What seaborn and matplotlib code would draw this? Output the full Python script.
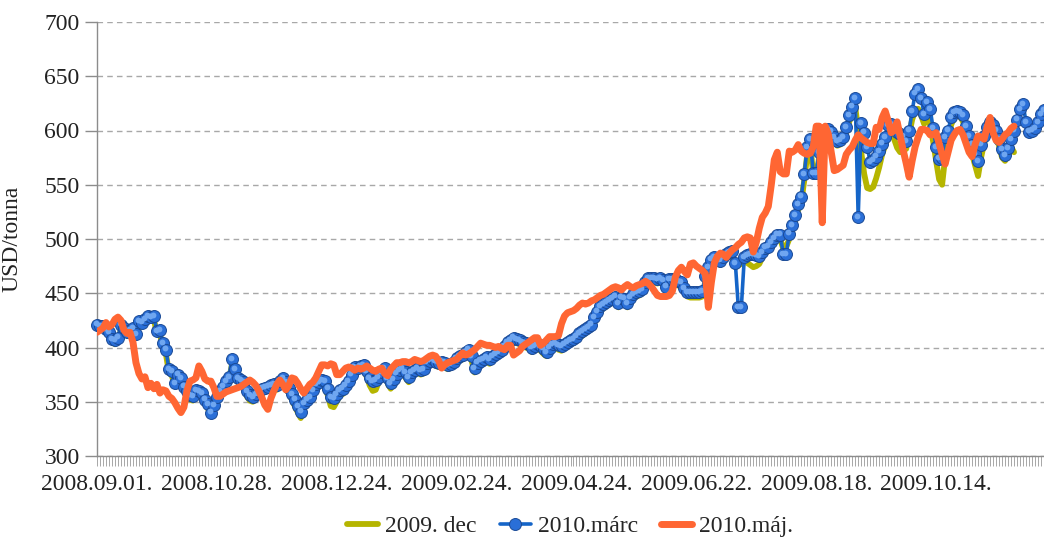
import numpy as np
import pandas as pd
import matplotlib
matplotlib.use("Agg")
import matplotlib.pyplot as plt
import matplotlib.transforms as mtransforms
import seaborn as sns

series_names = ["2009. dec", "2010.márc", "2010.máj."]
tick_labels = ["2008.09.01.", "2008.10.28.", "2008.12.24.", "2009.02.24.",
               "2009.04.24.", "2009.06.22.", "2009.08.18.", "2009.10.14."]

dec_2009 = [
    419, 418, 417, 414, 411, 405, 403, 405, 417, 415,
    411, 413, 415, 409, 420, 420, 423, 426, 425, 426,
    412, 412, 401, 394, 377, 374, 364, 371, 368, 360,
    356, 352, 351, 357, 356, 354, 348, 344, 337, 343,
    350, 356, 360, 365, 369, 384, 376, 368, 366, 364,
    355, 351, 350, 353, 356, 358, 359, 360, 361, 362,
    361, 365, 368, 364, 358, 352, 346, 340, 335, 344,
    347, 350, 357, 362, 364, 366, 364, 356, 346, 345,
    350, 356, 357, 360, 365, 371, 378, 377, 379, 380,
    373, 365, 360, 361, 368, 373, 377, 367, 362, 366,
    372, 375, 377, 372, 368, 373, 375, 377, 375, 376,
    382, 384, 385, 383, 382, 383, 382, 380, 381, 383,
    386, 388, 389, 392, 394, 388, 377, 382, 384, 385,
    387, 385, 388, 390, 392, 394, 397, 401, 403, 405,
    404, 403, 401, 400, 399, 396, 397, 399, 397, 394,
    392, 396, 399, 400, 398, 397, 399, 401, 403, 404,
    406, 409, 411, 413, 415, 417, 424, 429, 434, 436,
    438, 440, 441, 443, 437, 442, 441, 437, 442, 445,
    447, 448, 450, 456, 460, 460, 460, 459, 460, 458,
    452, 459, 459, 459, 457, 456, 451, 447, 446, 446,
    446, 446, 447, 461, 469, 476, 479, 478, 476, 479,
    482, 484, 485, 474, 476, 477, 479, 478, 476, 474,
    475, 477, 483, 487, 489, 493, 497, 500, 500, 491,
    493, 500, 508, 517, 527, 534, 554, 578, 586, 560,
    558, 576, 588, 594, 597, 595, 590, 586, 587, 590,
    598, 608, 615, 622, 600, 580, 560, 547, 546, 548,
    556, 566, 578, 586, 598, 600, 592, 584, 580, 582,
    583, 596, 610, 618, 620, 614, 606, 612, 605, 590,
    572, 555, 550, 575, 590, 605, 612, 614, 613, 608,
    598, 588, 578, 568, 558, 575, 588, 597, 603, 600,
    594, 586, 575, 572, 578, 585, 580,
]

marc_2010 = [
    421, 420, 420, 417, 414, 408, 407, 409, 421, 418,
    414, 416, 418, 412, 424, 423, 426, 429, 428, 429,
    415, 416, 404, 398, 380, 378, 367, 375, 372, 364,
    360, 356, 355, 361, 360, 358, 352, 348, 340, 347,
    354, 360, 364, 369, 373, 389, 380, 372, 370, 368,
    360, 356, 354, 357, 360, 362, 363, 364, 365, 366,
    365, 369, 372, 368, 363, 357, 352, 346, 341, 349,
    352, 354, 361, 366, 368, 370, 369, 362, 354, 353,
    357, 361, 362, 365, 369, 375, 382, 381, 383, 384,
    378, 372, 369, 370, 373, 377, 381, 372, 367, 371,
    376, 379, 381, 377, 373, 377, 379, 381, 379, 380,
    386, 388, 389, 387, 386, 387, 386, 384, 385, 387,
    390, 392, 393, 396, 398, 392, 381, 386, 388, 389,
    391, 389, 392, 394, 396, 398, 401, 405, 407, 409,
    408, 407, 405, 404, 403, 400, 401, 403, 401, 399,
    396, 400, 403, 404, 402, 401, 403, 405, 407, 408,
    410, 413, 415, 417, 419, 421, 428, 433, 438, 440,
    442, 444, 445, 447, 441, 446, 445, 441, 446, 449,
    451, 452, 454, 460, 464, 464, 464, 463, 464, 462,
    456, 463, 463, 463, 461, 460, 455, 451, 451, 451,
    451, 451, 452, 466, 474, 481, 483, 482, 480, 483,
    486, 488, 489, 478, 437, 437, 483, 485, 486, 486,
    485, 484, 488, 492, 493, 497, 501, 504, 504, 486,
    486, 505, 513, 522, 532, 539, 560, 585, 592, 561,
    561, 580, 592, 598, 601, 599, 594, 590, 591, 594,
    603, 614, 622, 630, 520, 607, 598, 585, 571, 573,
    576, 581, 588, 594, 605, 606, 601, 599, 597, 595,
    590, 600, 618, 634, 638, 630, 615, 626, 620, 602,
    585, 574, 575, 594, 600, 612, 617, 618, 617, 614,
    604, 595, 587, 578, 572, 587, 595, 603, 608, 605,
    600, 592, 583, 577, 584, 592, 600, 610, 620, 624,
    608, 599, 600, 602, 608, 615, 619,
]

maj_2010 = [
    414, 416, 418, 423, 419, 421, 426, 428, 425, 416,
    413, 414, 405, 386, 376, 371, 373, 363, 367, 362,
    366, 358, 361, 360, 355, 353, 349, 344, 340, 345,
    360, 369, 370, 372, 383, 378, 371, 369, 369, 363,
    355, 355, 357, 359, 360, 361, 362, 363, 364, 366,
    368, 370, 368, 365, 360, 354, 347, 343, 353, 360,
    366, 370, 366, 361, 365, 372, 371, 367, 362, 358,
    362, 366, 368, 372, 378, 384, 384, 383, 385, 384,
    375, 375, 378, 381, 382, 381, 379, 381, 380, 381,
    383, 381, 379, 378, 380, 381, 376, 374, 380, 383,
    386, 386, 387, 387, 386, 387, 389, 388, 387, 388,
    390, 392, 393, 392, 388, 381, 384, 386, 387, 388,
    389, 392, 395, 393, 394, 396, 398, 401, 404, 403,
    402, 402, 401, 400, 401, 399, 398, 402, 402, 393,
    395, 397, 401, 403, 405, 407, 409, 409, 402, 404,
    407, 410, 410, 410, 411, 422, 429, 432, 433, 434,
    436, 439, 441, 440, 441, 443, 444, 446, 448, 449,
    451, 453, 455, 456, 455, 453, 456, 458, 456, 455,
    457, 458, 459, 461, 459, 456, 452, 448, 447, 447,
    447, 448, 452, 465, 471, 474, 470, 467, 477, 478,
    475, 473, 471, 468, 437, 460, 478, 484, 487, 486,
    483, 487, 490, 492, 495, 497, 501, 502, 501, 488,
    497, 510, 520, 524, 530, 550, 573, 580, 562, 560,
    560, 581, 580, 582, 587, 581, 579, 578, 579, 585,
    604, 604, 515, 604, 597, 580, 563, 564, 566, 568,
    578, 582, 585, 591, 596, 593, 591, 589, 588, 588,
    603, 601, 612, 618, 609, 598, 600, 608, 595, 582,
    570, 557, 572, 585, 594, 601, 601, 600, 596, 596,
    598, 588, 578, 569, 580, 591, 596, 600, 601, 596,
    588, 580, 576, 587, 595, 594, 592, 603, 612, 598,
    591, 589, 592, 596, 598, 602, 604,
]

n = len(marc_2010)


def pad(a):
    return list(a) + [np.nan] * (n - len(a))


df = pd.DataFrame({
    "idx": np.arange(n),
    "dec": pad(dec_2009),
    "marc": marc_2010,
    "maj": pad(maj_2010),
})

sns.set_theme(style="white")
plt.rcParams["font.family"] = ["Liberation Serif", "DejaVu Serif"]

fig = plt.figure(figsize=(10.44, 5.43), dpi=100)
ax = fig.add_axes([97 / 1044, 1 - 456 / 543, (1044 - 97) / 1044, (456 - 22) / 543])

sns.lineplot(data=df, x="idx", y="dec", ax=ax, color="#b5b500", lw=4.2,
             label=series_names[0], estimator=None, zorder=2)
sns.lineplot(data=df, x="idx", y="marc", ax=ax, color="#1565c8", lw=2.6,
             marker="o", markersize=8.6, markerfacecolor="#2a6fd8",
             markeredgecolor="#1a4a96", markeredgewidth=0.7,
             label=series_names[1], estimator=None, zorder=3, clip_on=False)
# sphere highlight on the blue markers
hl = mtransforms.offset_copy(ax.transData, fig=fig, x=-0.9, y=0.9, units="points")
ax.plot(df["idx"], df["marc"], linestyle="none", marker="o", markersize=4.2,
        markerfacecolor="#6fa6f0", markeredgewidth=0, transform=hl,
        zorder=3.1, clip_on=False, label="_nolegend_")
sns.lineplot(data=df, x="idx", y="maj", ax=ax, color="#ff6633", lw=5.0,
             label=series_names[2], estimator=None, zorder=4)

ax.set_xlim(0, n - 1)
ax.set_ylim(300, 700)
ax.set_yticks(np.arange(300, 701, 50))
ax.set_xticks(np.arange(0, n, 40))
ax.set_xticklabels(tick_labels)
ax.set_xticks(np.arange(n), minor=True)
ax.set_xlabel("")
ax.set_ylabel("USD/tonna", fontsize=17, color="#222222")
ax.yaxis.set_label_coords(-(97 - 22) / 947, 0.5)

ax.yaxis.grid(True, linestyle=(0, (4, 3)), color="#a8a8a8", lw=1)
ax.xaxis.grid(False)
ax.set_axisbelow(True)

for s in ["top", "right"]:
    ax.spines[s].set_visible(False)
for s in ["left", "bottom"]:
    ax.spines[s].set_color("#8c8c8c")
    ax.spines[s].set_linewidth(1)

ax.tick_params(axis="y", which="major", left=True, length=8.5, width=1,
               color="#8c8c8c", labelsize=17, pad=4, labelcolor="#222222")
ax.tick_params(axis="x", which="both", bottom=True, length=7, width=0.6,
               color="#999999", direction="out")
ax.tick_params(axis="x", which="major", labelsize=17, pad=6, labelcolor="#222222")

leg = ax.get_legend()
if leg is not None:
    leg.remove()
handles, labels = ax.get_legend_handles_labels()
pairs = [(h, l) for h, l in zip(handles, labels) if l in series_names]
ax.legend([p[0] for p in pairs], [p[1] for p in pairs], loc="center",
          bbox_to_anchor=(0.546, 0.03), bbox_transform=fig.transFigure,
          ncol=3, frameon=False, fontsize=17, handlelength=1.3,
          handletextpad=0.3, columnspacing=1.0)

fig.savefig("out.png", dpi=100)
